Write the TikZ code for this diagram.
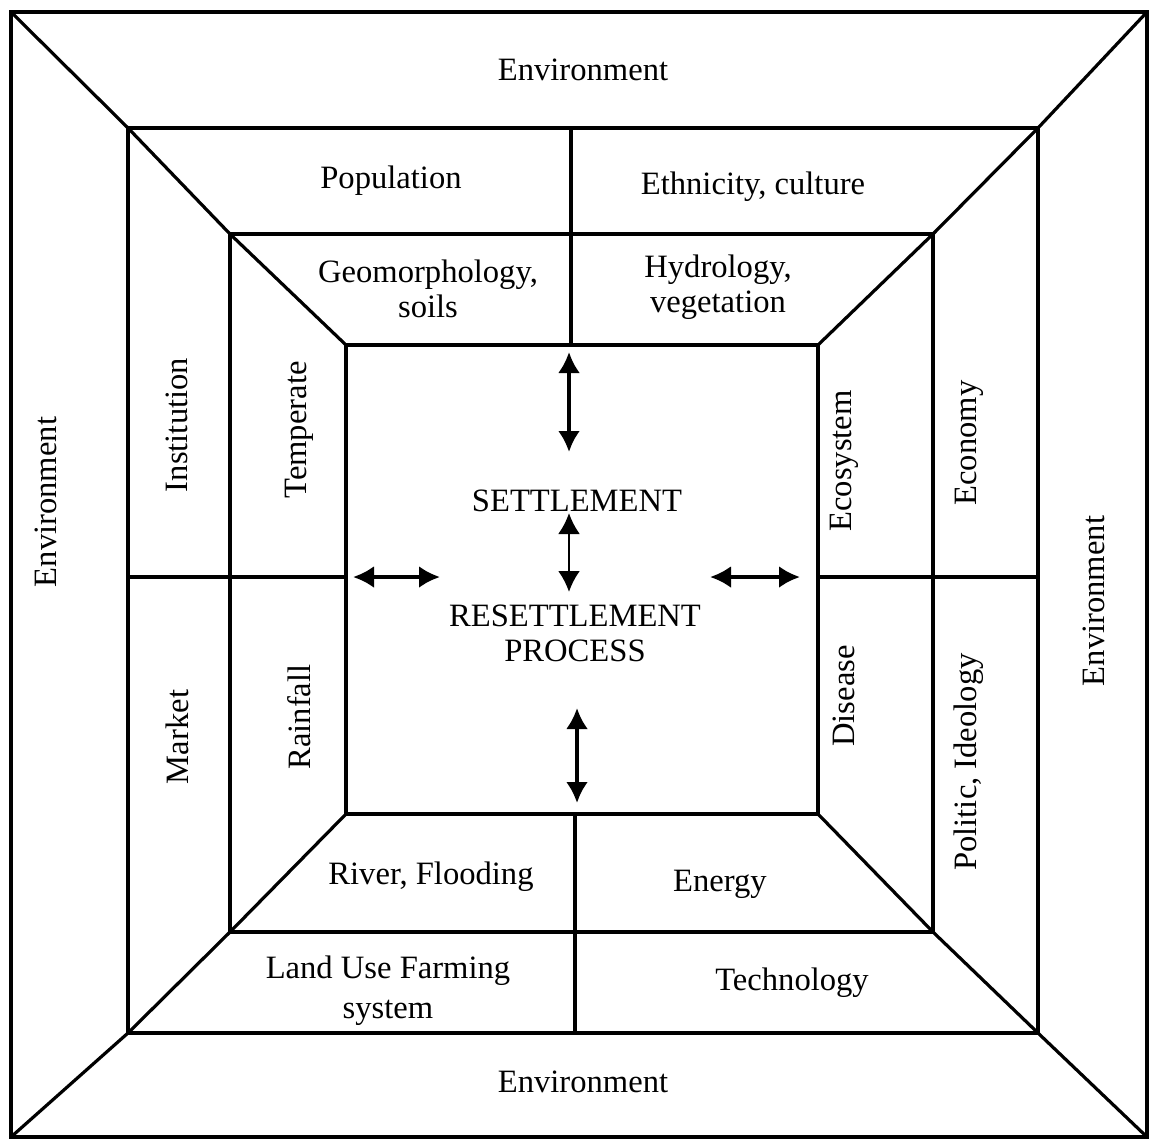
\documentclass[tikz,border=0pt]{standalone}
\usepackage{fontspec}
\setmainfont{Liberation Serif}
\usetikzlibrary{arrows.meta}
\begin{document}
\begin{tikzpicture}[x=0.5pt,y=-0.5pt,
  frame/.style={line width=1.6pt, line join=miter},
  lbl/.style={font=\fontsize{16.3}{17.5}\selectfont, inner sep=0pt, align=center},
  vlbl/.style={lbl, rotate=90},
  biarrow/.style={line width=1.9pt, {Latex[length=10.5pt,width=11pt]}-{Latex[length=10.5pt,width=11pt]}}]
\useasboundingbox (0,0) rectangle (1151,1140);
\fill[white] (0,0) rectangle (1151,1140);
% corners
\coordinate (o1) at (11,12);   \coordinate (o2) at (1147,12);
\coordinate (o3) at (1147,1137); \coordinate (o4) at (11,1137);
\coordinate (s1) at (128,128);  \coordinate (s2) at (1038,128);
\coordinate (s3) at (1038,1033); \coordinate (s4) at (128,1033);
\coordinate (t1) at (230,234);  \coordinate (t2) at (933,234);
\coordinate (t3) at (933,932);  \coordinate (t4) at (230,932);
\coordinate (i1) at (346,345);  \coordinate (i2) at (818,345);
\coordinate (i3) at (818,814);  \coordinate (i4) at (346,814);
% dividers
\coordinate (dTa) at (571,128); \coordinate (dTb) at (571,345);
\coordinate (dBa) at (575,814); \coordinate (dBb) at (575,1033);
\coordinate (dLa) at (128,577); \coordinate (dLb) at (346,577);
\coordinate (dRa) at (818,577); \coordinate (dRb) at (1038,577);
\draw[frame] (o1) -- (o2) -- (o3) -- (o4) -- cycle;
\draw[frame] (s1) -- (s2) -- (s3) -- (s4) -- cycle;
\draw[frame] (t1) -- (t2) -- (t3) -- (t4) -- cycle;
\draw[frame] (i1) -- (i2) -- (i3) -- (i4) -- cycle;
\draw[frame] (o1) -- (s1) -- (t1) -- (i1);
\draw[frame] (o2) -- (s2) -- (t2) -- (i2);
\draw[frame] (o3) -- (s3) -- (t3) -- (i3);
\draw[frame] (o4) -- (s4) -- (t4) -- (i4);
\draw[frame] (dTa) -- (dTb);
\draw[frame] (dBa) -- (dBb);
\draw[frame] (dLa) -- (dLb);
\draw[frame] (dRa) -- (dRb);
% labels
\node[lbl] (envT) at (583,70) {Environment};
\node[lbl] (envB) at (583,1082) {Environment};
\node[vlbl] (envL) at (46,502) {Environment};
\node[vlbl] (envR) at (1094,601) {Environment};
\node[lbl] (pop) at (391,181) {Population};
\node[lbl] (eth) at (753,187) {Ethnicity, culture};
\node[lbl] (geo) at (428,289) {Geomorphology,\\soils};
\node[lbl] (hyd) at (718,287) {Hydrology,\\vegetation};
\node[vlbl] (inst) at (177,425) {Institution};
\node[vlbl] (temp) at (299,430) {Temperate};
\node[vlbl] (mark) at (177,737) {Market};
\node[vlbl] (rain) at (299,717) {Rainfall};
\node[vlbl] (eco) at (844,461) {Ecosystem};
\node[vlbl] (econ) at (969,443) {Economy};
\node[vlbl] (dis) at (844,696) {Disease};
\node[vlbl] (pol) at (969,762) {Politic, Ideology};
\node[lbl] (riv) at (431,877) {River, Flooding};
\node[lbl] (ene) at (720,884) {Energy};
\node[lbl, font=\fontsize{16.3}{20}\selectfont] (land) at (388,991) {Land Use Farming\\system};
\node[lbl] (tech) at (792,983) {Technology};
\node[lbl] (settle) at (577,501) {SETTLEMENT};
\node[lbl] (reset) at (575,633) {RESETTLEMENT\\PROCESS};
% arrows
\coordinate (aT1) at (569,352); \coordinate (aT2) at (569,452);
\coordinate (aM1) at (569,513); \coordinate (aM2) at (569,592);
\coordinate (aB1) at (577,708); \coordinate (aB2) at (577,803);
\coordinate (aL1) at (353,577); \coordinate (aL2) at (440,577);
\coordinate (aR1) at (710,577); \coordinate (aR2) at (800,577);
\draw[biarrow] (aT1) -- (aT2);
\draw[biarrow, line width=1.3pt] (aM1) -- (aM2);
\draw[biarrow] (aB1) -- (aB2);
\draw[biarrow] (aL1) -- (aL2);
\draw[biarrow] (aR1) -- (aR2);
\end{tikzpicture}
\end{document}
